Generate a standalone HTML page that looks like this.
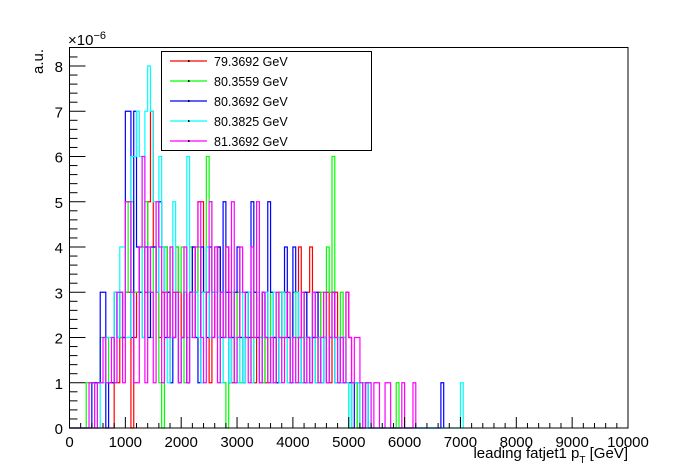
<!DOCTYPE html>
<html><head><meta charset="utf-8"><style>
body{margin:0;background:#fff;}
svg{display:block;font-family:"Liberation Sans",sans-serif;}
</style></head><body>
<svg id="chart" width="698" height="476">
<rect width="698" height="476" fill="#fff"/>
<g id="hists"></g>
<rect x="69.5" y="47.5" width="558.5" height="380.5" fill="none" stroke="#000" stroke-width="1"/>
<g id="axes"></g>
<text x="68" y="45" font-size="15">×10<tspan dy="-6" font-size="11">−6</tspan></text>
<text transform="translate(43,74) rotate(-90)" font-size="15">a.u.</text>
<text x="628" y="458" font-size="15" text-anchor="end">leading fatjet1 p<tspan dy="5" font-size="10">T</tspan><tspan dy="-5"> [GeV]</tspan></text>
<g>
<rect x="161.5" y="51.5" width="210" height="99" fill="#fff" stroke="#000"/>
<g id="legend-entries"></g>
</g>
</svg>
<script>
const binWidth = 50;
const seriesNames = ["79.3692 GeV","80.3559 GeV","80.3692 GeV","80.3825 GeV","81.3692 GeV"];
const seriesColors = ["#ff0000","#00ff00","#0000ff","#00ffff","#ff00ff"];
const redCounts = [0,0,0,0,0,0,0,0,0,0,0,0,0,0,0,0,1,1,2,2,3,3,0,2,3,4,4,3,5,7,4,3,2,3,4,3,2,3,4,3,2,3,2,3,4,3,5,5,3,4,1,2,3,4,3,2,4,3,1,2,3,2,1,2,3,2,1,3,2,3,1,2,1,2,1,3,2,3,2,1,3,2,4,2,1,3,4,2,1,3,1,2,3,1,2,3,2,1,2,3,2,1,1,0,0,1];
const greenCounts = [0,0,0,0,0,0,1,1,1,1,1,2,2,2,1,1,1,3,2,2,3,5,5,3,3,3,4,5,3,2,4,3,1,0,4,3,4,2,4,3,4,1,2,4,3,2,4,3,3,6,5,3,4,2,3,1,0,2,3,1,3,1,2,3,2,1,3,2,2,1,2,1,3,2,1,3,3,2,1,2,3,2,1,2,3,1,2,3,1,2,3,2,4,3,6,2,1,3,2,1,0,1,1,0,0,1,1,0,0,0,0,0,0,0,0,0,0,1];
const blueCounts = [0,0,0,0,0,0,0,0,1,1,1,3,3,0,1,1,3,2,3,2,7,7,2,7,4,3,2,4,2,4,4,3,5,4,2,3,1,2,3,1,2,3,1,3,4,2,1,4,3,2,4,3,3,4,2,5,3,1,2,3,4,2,1,3,2,5,3,2,1,3,2,5,3,2,1,2,3,4,2,1,4,3,2,1,3,2,1,2,3,2,1,2,1,2,3,1,1,2,1,1,1,0,1,1,0,0,1,0,0,0,0,0,0,0,0,0,0,0,0,0,0,0,0,0,0,0,0,0,0,0,0,0,0,1];
const cyanCounts = [0,0,0,0,0,0,0,0,0,0,0,1,1,2,2,2,3,2,4,4,2,2,6,6,7,6,2,7,8,7,5,3,6,4,3,1,2,5,3,1,2,3,6,2,3,3,2,1,3,4,2,3,3,2,1,3,2,1,3,2,1,3,1,2,3,1,2,3,1,2,3,2,1,3,2,1,3,2,1,2,1,3,2,1,2,1,2,3,1,2,1,2,1,2,2,1,2,1,2,1,0,1,1,1,0,1,0,1,0,0,0,0,0,0,0,0,0,0,0,0,0,0,0,0,0,0,0,0,0,0,0,0,0,0,0,0,0,0,0,0,1];
const magentaCounts = [0,0,0,0,0,0,0,1,1,0,1,1,2,1,1,2,1,3,3,1,5,5,3,1,1,4,6,1,4,3,1,5,4,1,3,2,4,2,3,1,2,4,1,3,2,4,5,2,1,3,5,2,4,1,3,2,4,2,5,1,2,4,3,2,1,4,2,5,1,3,2,1,2,1,3,2,1,2,3,1,2,1,2,3,1,2,1,3,2,1,2,3,1,2,3,2,1,2,1,3,2,1,2,2,1,0,1,1,0,1,1,0,0,1,1,0,0,0,0,1,0,0,0,1];
const allCounts = [redCounts,greenCounts,blueCounts,cyanCounts,magentaCounts];
const xTicks = [0,1000,2000,3000,4000,5000,6000,7000,8000,9000,10000];
const yTicks = [0,1,2,3,4,5,6,7,8];

const X0=69.5,X1=628,Y0=428,YPER=45.25;
const xs = v => X0 + v/10000*(X1-X0);
const ys = c => Y0 - c*YPER;
const NS="http://www.w3.org/2000/svg";
const hg=document.getElementById('hists');
allCounts.forEach((counts,si)=>{
  let d="M"+xs(0)+","+ys(0);
  counts.forEach((c,i)=>{
    const xa=xs(i*binWidth), xb=xs((i+1)*binWidth);
    d+=" L"+xa.toFixed(2)+","+ys(c).toFixed(2)+" L"+xb.toFixed(2)+","+ys(c).toFixed(2);
  });
  d+=" L"+xs(counts.length*binWidth).toFixed(2)+","+ys(0);
  const p=document.createElementNS(NS,'path');
  p.setAttribute('d',d);p.setAttribute('fill','none');
  p.setAttribute('stroke',seriesColors[si]);p.setAttribute('stroke-width','1.2');
  
  
  hg.appendChild(p);
});
const ag=document.getElementById('axes');
function line(x1,y1,x2,y2){const l=document.createElementNS(NS,'line');l.setAttribute('x1',x1);l.setAttribute('y1',y1);l.setAttribute('x2',x2);l.setAttribute('y2',y2);l.setAttribute('stroke','#000');ag.appendChild(l);return l;}
function text(x,y,s,anchor){const t=document.createElementNS(NS,'text');t.setAttribute('x',x);t.setAttribute('y',y);t.setAttribute('font-size','15');t.setAttribute('text-anchor',anchor);t.textContent=s;ag.appendChild(t);return t;}
for(let v=0;v<=10000;v+=200){const x=xs(v);line(x,Y0,x,Y0-(v%1000===0?11:(v%500===0?8:5)));}
xTicks.forEach(v=>{const t=text(xs(v),447,String(v),'middle');

});
for(let k=0;k<=42;k++){const c=k*0.2;if(ys(c)<48)break;line(X0,ys(c),X0+(k%5===0?16:8),ys(c));}
yTicks.forEach(v=>{const t=text(63,ys(v)+6,String(v),'end');

});
const lg=document.getElementById('legend-entries');
seriesNames.forEach((n,i)=>{
  const y=61+i*20;
  const l=document.createElementNS(NS,'line');
  l.setAttribute('x1',170);l.setAttribute('x2',207);l.setAttribute('y1',y);l.setAttribute('y2',y);
  l.setAttribute('stroke',seriesColors[i]);l.setAttribute('stroke-width','1.2');
  
  
  lg.appendChild(l);
  const dot=document.createElementNS(NS,'rect');
  dot.setAttribute('x',188);dot.setAttribute('y',y-1);dot.setAttribute('width',1.5);dot.setAttribute('height',2);dot.setAttribute('fill','#000');
  
  
  lg.appendChild(dot);
  const t=document.createElementNS(NS,'text');
  t.setAttribute('x',214);t.setAttribute('y',y+5);t.setAttribute('font-size','12.5');t.textContent=n;
  
  
  lg.appendChild(t);
});
</script>
</body></html>
